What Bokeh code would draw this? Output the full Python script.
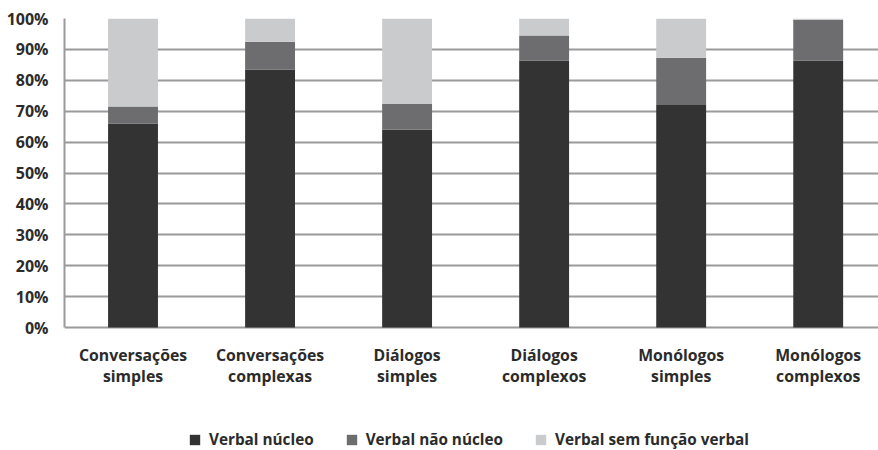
import numpy as np
from bokeh.plotting import figure
from bokeh.models import Range1d, FixedTicker, NumeralTickFormatter, Legend, LegendItem, ColumnDataSource
from bokeh.core.properties import value
from bokeh.embed import file_html
from bokeh.resources import INLINE

cat_line1 = ["Conversações", "Conversações", "Diálogos", "Diálogos", "Monólogos", "Monólogos"]
cat_line2 = ["simples", "complexas", "simples", "complexos", "simples", "complexos"]
nucleo = [0.66, 0.835, 0.64, 0.864, 0.72, 0.864]
nao_nucleo = [0.055, 0.09, 0.083, 0.081, 0.153, 0.132]
sem_funcao = [0.285, 0.075, 0.277, 0.055, 0.127, 0.004]
series_names = ["Verbal núcleo", "Verbal não núcleo", "Verbal sem função verbal"]
colors = ["#333333", "#6d6d6f", "#cacbcd"]
y_ticks = [i / 10 for i in range(11)]

x = list(np.arange(len(cat_line1)) + 0.5)
src = ColumnDataSource(dict(x=x, a=nucleo, b=nao_nucleo, c=sem_funcao,
                            l1=cat_line1, l2=cat_line2))

FONT = "Open Sans"
TXT = "#2b2b2b"
LABEL_Y1 = -0.089   # first label line, below the 0 % baseline
LABEL_Y2 = -0.157   # second label line

p = figure(width=878, height=450, output_backend="svg", toolbar_location=None,
           x_range=Range1d(0, 5.94), y_range=Range1d(-0.398, 1.0),
           min_border_left=64, min_border_right=0, min_border_top=18, min_border_bottom=0,
           x_axis_location=None)
p.outline_line_color = None
p.background_fill_color = "white"
p.border_fill_color = "white"

rs = p.vbar_stack(["a", "b", "c"], x="x", width=0.364, source=src, color=colors,
                  line_color=None)

# grid (0% line doubles as the category axis line)
p.xgrid.grid_line_color = None
p.ygrid.ticker = FixedTicker(ticks=y_ticks)
p.ygrid.grid_line_color = "#9a9a9c"
p.ygrid.grid_line_width = 2

# y axis
p.yaxis.ticker = FixedTicker(ticks=y_ticks)
p.yaxis.bounds = (0, 1)
p.yaxis.formatter = NumeralTickFormatter(format="0%")
p.yaxis.axis_line_color = "#9a9a9c"
p.yaxis.axis_line_width = 2
p.yaxis.major_tick_line_color = None
p.yaxis.minor_tick_line_color = None
p.yaxis.major_label_text_font = FONT
p.yaxis.major_label_text_font_size = "16px"
p.yaxis.major_label_text_font_style = "bold"
p.yaxis.major_label_text_color = TXT
p.yaxis.major_label_standoff = 10

# category labels
for col, yy in (("l1", LABEL_Y1), ("l2", LABEL_Y2)):
    p.text(x="x", y=yy, text=col, source=src, text_align="center", text_baseline="middle",
           text_font=value(FONT), text_font_size="15.8px", text_font_style="bold",
           text_color=TXT)

legend = Legend(items=[LegendItem(label=n, renderers=[r]) for n, r in zip(series_names, rs)],
                orientation="horizontal", location=(124, 1))
legend.border_line_color = None
legend.background_fill_alpha = 0
legend.padding = 0
legend.margin = 0
legend.spacing = 31
legend.glyph_width = 13
legend.glyph_height = 13
legend.label_height = 14
legend.label_standoff = 8
legend.label_text_font = FONT
legend.label_text_font_size = "15.3px"
legend.label_text_font_style = "bold"
legend.label_text_color = TXT
p.add_layout(legend, "center")

open("out.html", "w").write(file_html(p, INLINE))
